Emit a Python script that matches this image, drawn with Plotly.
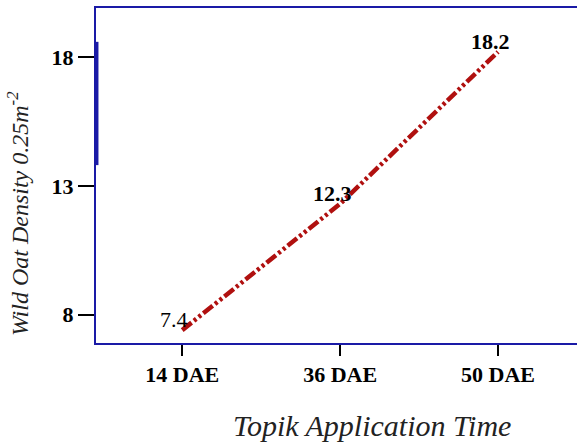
import plotly.graph_objects as go

categories = ["14 DAE", "36 DAE", "50 DAE"]
density = [7.4, 12.3, 18.2]
y_ticks = [8, 13, 18]
label_bold = [False, True, True]

AXIS_BLUE = "#1a1aa6"
LINE_RED = "#b0100f"
SERIF = "Liberation Serif"

fig = go.Figure()
fig.add_trace(go.Scatter(
    x=list(range(len(categories))), y=density, mode="lines",
    line=dict(color=LINE_RED, width=4.5, dash="12px,3px,3px,3px,3px,3px"),
    hoverinfo="skip", showlegend=False,
))

for i, v in enumerate(density):
    txt = f"<b>{v}</b>" if label_bold[i] else f"{v}"
    fig.add_annotation(x=i, y=v, text=txt, showarrow=False,
                       xanchor="center", yanchor="bottom", xshift=-8, yshift=-4,
                       font=dict(family=SERIF, size=22, color="black"))

fig.add_shape(type="line", xref="paper", yref="paper", x0=0.002, x1=0.002,
              y0=0.531, y1=0.899, line=dict(color=AXIS_BLUE, width=3))

fig.add_annotation(xref="paper", yref="paper", x=-0.162, y=0.385,
                   text="<i>Wild Oat Density 0.25m<sup>-2</sup></i>", textangle=-90,
                   showarrow=False, xanchor="center", yanchor="middle",
                   font=dict(family=SERIF, size=24, color="#222"))
fig.add_annotation(xref="paper", yref="paper", x=0.574, y=-0.245,
                   text="<i>Topik Application Time</i>",
                   showarrow=False, xanchor="center", yanchor="middle",
                   font=dict(family=SERIF, size=30, color="#222"))

fig.update_layout(
    width=579, height=444,
    margin=dict(l=96, r=2, t=8, b=101),
    paper_bgcolor="white", plot_bgcolor="white",
    xaxis=dict(range=[-0.546, 2.5], tickvals=list(range(len(categories))),
               ticktext=categories, showgrid=False, zeroline=False,
               showline=True, linecolor=AXIS_BLUE, linewidth=2, mirror=True,
               ticks="outside", ticklen=11, tickcolor="black", tickwidth=1.5,
               tickfont=dict(family=SERIF, size=22, color="black", weight="bold")),
    yaxis=dict(range=[6.9, 19.9], tickvals=y_ticks, showgrid=False, zeroline=False,
               showline=True, linecolor=AXIS_BLUE, linewidth=2,
               ticks="outside", ticklen=16, tickcolor="black", tickwidth=1.5,
               tickfont=dict(family=SERIF, size=22, color="black", weight="bold")),
)

fig.write_html("out.html")
